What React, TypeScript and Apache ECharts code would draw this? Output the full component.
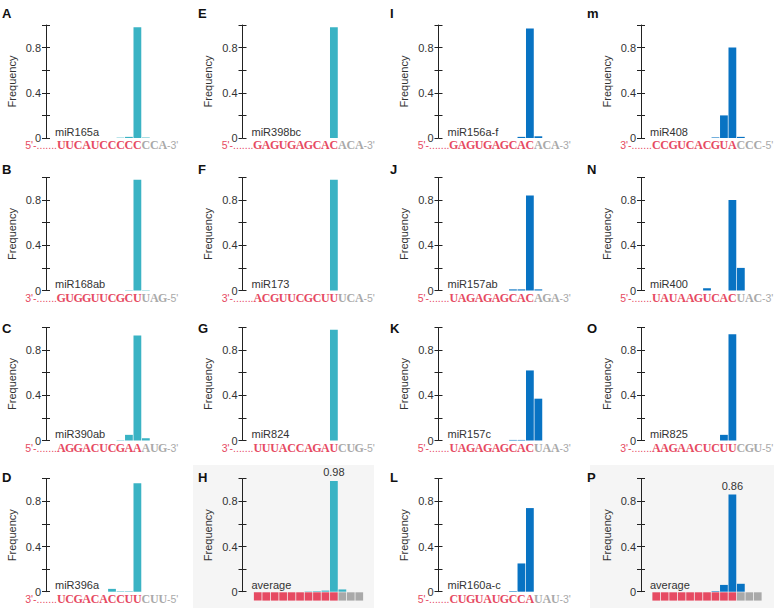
import React, { useEffect, useRef } from 'react';
import * as echarts from 'echarts';

const panelLabels = ['A', 'B', 'C', 'D', 'E', 'F', 'G', 'H', 'I', 'J', 'K', 'L', 'm', 'N', 'O', 'P'];
const mirNames = ['miR165a', 'miR168ab', 'miR390ab', 'miR396a', 'miR398bc', 'miR173', 'miR824', 'average',
  'miR156a-f', 'miR157ab', 'miR157c', 'miR160a-c', 'miR408', 'miR400', 'miR825', 'average'];
const seedSeqs = ['UUCAUCCCCC', 'GUGGUUCGCU', 'AGGACUCGAA', 'UCGACACCUU', 'GAGUGAGCAC', 'ACGUUCGCUU', 'UUUACCAGAU', '',
  'GAGUGAGCAC', 'UAGAGAGCAC', 'UAGAGAGCAC', 'CUGUAUGCCA', 'CCGUCACGUA', 'UAUAAGUCAC', 'AAGAACUCUU', ''];
const flankSeqs = ['CCA', 'UAG', 'AUG', 'CUU', 'ACA', 'UCA', 'CUG', '', 'ACA', 'AGA', 'UAA', 'UAU', 'CCC', 'UAC', 'CGU', ''];
const startEnds = ["5'", "3'", "5'", "3'", "5'", "3'", "3'", '', "5'", "5'", "5'", "5'", "3'", "5'", "3'", ''];
const endEnds = ["3'", "5'", "3'", "5'", "3'", "5'", "5'", '', "3'", "3'", "3'", "3'", "5'", "3'", "5'", ''];
const positions = ['1', '2', '3', '4', '5', '6', '7', '8', '9', '10', '11', '12', '13'];
const averageSquares = ['r', 'r', 'r', 'r', 'r', 'r', 'r', 'r', 'r', 'r', 'g', 'g', 'g'];
const yTickLabels = ['0', '0.4', '0.8'];

const freqA = [0, 0, 0, 0, 0, 0, 0, 0.003, 0.01, 0.98, 0.004, 0, 0];
const freqB = [0, 0, 0, 0, 0, 0, 0, 0, 0.003, 0.98, 0.003, 0, 0];
const freqC = [0, 0, 0, 0, 0, 0, 0, 0.003, 0.05, 0.93, 0.02, 0, 0];
const freqD = [0, 0, 0, 0, 0, 0, 0.025, 0.004, 0.004, 0.96, 0, 0, 0];
const freqE = [0, 0, 0, 0, 0, 0, 0, 0, 0, 0.98, 0, 0, 0];
const freqF = [0, 0, 0, 0, 0, 0, 0, 0, 0, 0.98, 0, 0, 0];
const freqG = [0, 0, 0, 0, 0, 0, 0, 0, 0, 0.98, 0, 0, 0];
const freqH = [0, 0, 0, 0, 0, 0, 0.003, 0.005, 0.01, 0.98, 0.02, 0, 0];
const freqI = [0, 0, 0, 0, 0, 0, 0, 0, 0.01, 0.97, 0.015, 0, 0];
const freqJ = [0, 0, 0, 0, 0, 0, 0, 0.01, 0.01, 0.84, 0.01, 0, 0];
const freqK = [0, 0, 0, 0, 0, 0, 0, 0.005, 0.005, 0.62, 0.37, 0, 0];
const freqL = [0, 0, 0, 0, 0, 0, 0, 0.005, 0.25, 0.74, 0, 0, 0];
const freqM = [0, 0, 0, 0, 0, 0, 0, 0.005, 0.2, 0.8, 0.01, 0, 0];
const freqN = [0, 0, 0, 0, 0, 0, 0.02, 0, 0, 0.8, 0.2, 0, 0];
const freqO = [0, 0, 0, 0, 0, 0, 0, 0, 0.05, 0.94, 0, 0, 0];
const freqP = [0, 0, 0, 0, 0, 0, 0, 0.005, 0.06, 0.86, 0.07, 0, 0];
const allFreqs = [freqA, freqB, freqC, freqD, freqE, freqF, freqG, freqH, freqI, freqJ, freqK, freqL, freqM, freqN, freqO, freqP];

const RED = '#E64A62';
const GREY = '#A9A9A9';
const TEAL = '#3AB3C4';
const BLUE = '#0873C3';
const TXT = '#333';
const SERIF = 'Liberation Serif';

const colAxisX = [46, 242.5, 438.5, 641];
const rowY0 = [138, 290.5, 440.5, 591.7];
const letterX = [2, 198, 390, 587];
const letterY = [7, 163, 322, 471];
const PLOT_H = 113;
const GRID_OFF = 11;
const GRID_W = 110;

function buildOption() {
  const grids: any[] = [];
  const xs: any[] = [];
  const ys: any[] = [];
  const ser: any[] = [];
  const g: any[] = [];

  g.push({ type: 'rect', z: -10, silent: true, shape: { x: 193, y: 465, width: 181, height: 143 }, style: { fill: '#F5F5F5' } });
  g.push({ type: 'rect', z: -10, silent: true, shape: { x: 590, y: 465, width: 184, height: 143 }, style: { fill: '#F5F5F5' } });

  for (let k = 0; k < 16; k++) {
    const col = Math.floor(k / 4);
    const row = k % 4;
    const ax = colAxisX[col];
    const y0 = rowY0[row];
    const gl = ax + GRID_OFF;
    const isAvg = mirNames[k] === 'average';
    const color = col < 2 ? TEAL : BLUE;

    const gIdx = grids.length;
    grids.push({ left: gl, top: y0 - PLOT_H, width: GRID_W, height: PLOT_H, containLabel: false });

    const xIdx = xs.length;
    if (isAvg) {
      xs.push({ gridIndex: gIdx, type: 'category', data: positions, axisLine: { show: false }, axisTick: { show: false }, axisLabel: { show: false } });
    } else {
      const letters = (seedSeqs[k] + flankSeqs[k]).split('');
      xs.push({
        gridIndex: gIdx,
        type: 'category',
        data: letters.map((c, i) => ({ value: c, textStyle: { color: i < 10 ? RED : GREY } })),
        axisLine: { show: false },
        axisTick: { show: false },
        axisLabel: { interval: 0, margin: 1, fontFamily: SERIF, fontWeight: 'bold', fontSize: 12 },
      });
    }

    const pIdx = ys.length;
    ys.push({
      gridIndex: gIdx,
      type: 'value',
      min: 0,
      max: 1,
      interval: 0.2,
      offset: GRID_OFF,
      position: 'left',
      splitLine: { show: false },
      axisLine: { show: true, onZero: false, lineStyle: { color: '#222', width: 1 } },
      axisTick: { show: true, inside: false, length: 4, lineStyle: { color: '#222' } },
      axisLabel: {
        margin: 5,
        fontSize: 11,
        color: TXT,
        formatter: (v: number) => {
          const t = Math.round(v * 10);
          if (t === 0) return yTickLabels[0];
          if (t === 4) return yTickLabels[1];
          if (t === 8) return yTickLabels[2];
          return '';
        },
      },
      name: 'Frequency',
      nameLocation: 'middle',
      nameGap: 29,
      nameTextStyle: { fontSize: 11, fontFamily: 'Arial', color: TXT },
    });
    ys.push({
      gridIndex: gIdx,
      type: 'value',
      min: 0,
      max: 1,
      interval: 0.2,
      offset: GRID_OFF,
      position: 'left',
      splitLine: { show: false },
      axisLine: { show: false },
      axisTick: { show: true, inside: true, length: 4, lineStyle: { color: '#222' } },
      axisLabel: { show: false },
    });

    const vals = allFreqs[k];
    const maxV = Math.max(...vals);
    ser.push({
      type: 'bar',
      xAxisIndex: xIdx,
      yAxisIndex: pIdx,
      barCategoryGap: '8%',
      itemStyle: { color },
      data: vals.map((v) =>
        isAvg && v === maxV
          ? { value: v, label: { show: true, position: 'top', distance: 3, fontSize: 11, color: TXT, formatter: (p: any) => p.value.toFixed(2) } }
          : v
      ),
    });

    if (isAvg) {
      // coloured strip of squares under the average panels
      const sg = grids.length;
      grids.push({ left: gl, top: y0 + 0.6, width: GRID_W, height: 8.3, containLabel: false });
      const sx = xs.length;
      xs.push({ gridIndex: sg, type: 'category', data: positions, show: false });
      const sy = ys.length;
      ys.push({ gridIndex: sg, type: 'value', min: 0, max: 1, show: false });
      ser.push({
        type: 'bar',
        xAxisIndex: sx,
        yAxisIndex: sy,
        barCategoryGap: '9%',
        silent: true,
        data: averageSquares.map((s) => ({ value: 1, itemStyle: { color: s === 'r' ? RED : GREY } })),
      });
    }

    g.push({ type: 'text', x: letterX[col], y: letterY[row], style: { text: panelLabels[k], fontSize: 13, fontWeight: 'bold', fill: '#111' } });
    g.push({ type: 'text', x: ax + 9, y: y0 - 12, style: { text: mirNames[k], fontSize: 11, fill: TXT } });
    if (!isAvg) {
      g.push({ type: 'text', x: gl, y: y0 + 1.5, style: { text: startEnds[k] + '-.......', fontSize: 10.5, fill: RED, align: 'right' } });
      g.push({ type: 'text', x: gl + GRID_W, y: y0 + 1.5, style: { text: '-' + endEnds[k], fontSize: 10.5, fill: GREY } });
    }
  }

  return { animation: false, backgroundColor: '#fff', grid: grids, xAxis: xs, yAxis: ys, series: ser, graphic: g };
}

export default function App() {
  const ref = useRef<HTMLDivElement>(null);
  useEffect(() => {
    if (!ref.current) return;
    const chart = echarts.init(ref.current, undefined, { renderer: 'svg' });
    chart.setOption(buildOption() as any);
    return () => chart.dispose();
  }, []);
  return <div ref={ref} style={{ position: 'absolute', left: 0, top: 0, width: 774, height: 608 }} />;
}
